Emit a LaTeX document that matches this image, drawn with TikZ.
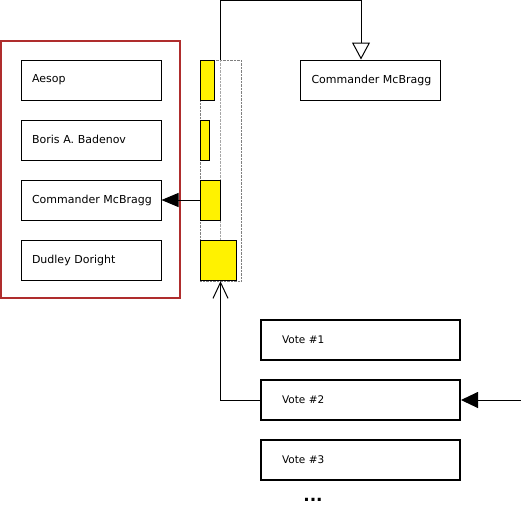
\documentclass[tikz,border=0pt]{standalone}
\usepackage{fontspec}
\setmainfont{DejaVu Sans}
\usetikzlibrary{arrows.meta}

\tikzset{
  namebox/.style={rectangle, draw, line width=1pt, minimum height=40pt,
    text width=118pt, inner xsep=11pt, align=left, font=\fontsize{11}{12}\selectfont},
  votebox/.style={rectangle, draw, line width=2pt, minimum height=40pt,
    text width=157pt, inner xsep=21pt, align=left, font=\fontsize{10.5}{12}\selectfont},
  bar/.style={rectangle, draw, fill=yellow, line width=1pt, minimum height=40pt, inner sep=0pt},
}

\begin{document}
\begin{tikzpicture}[x=1pt, y=-1pt]
        \useasboundingbox (0,0) rectangle (521,520);

        % cast of candidates
        \node[rectangle, draw={rgb,255:red,175;green,45;blue,45}, line width=1.6pt,
              minimum width=179pt, minimum height=257pt] (cast) at (90.5,169.5) {};
        \node[namebox] (aesop) at (91,80) {\raisebox{1.5pt}{Aesop}};
        \node[namebox] (boris) at (91,140) {\raisebox{1.5pt}{Boris A. Badenov}};
        \node[namebox] (mcbragg) at (91,200) {\raisebox{1.5pt}{Commander McBragg}};
        \node[namebox] (dudley) at (91,260) {\raisebox{1.5pt}{Dudley Doright}};

        % tally bars
        \node[rectangle, draw=gray, densely dotted, minimum width=41pt, minimum height=221pt] (tally) at (220.5,170.5) {};
        \draw[gray!70, densely dotted] (tally.north) -- (tally.south);
        \node[bar, minimum width=14pt] (bar1) at (207,80) {};
        \node[bar, minimum width=9pt] (bar2) at (204.5,140) {};
        \node[bar, minimum width=20pt] (bar3) at (210,200) {};
        \node[bar, minimum width=36pt] (bar4) at (218,260) {};

        % leader
        \node[namebox] (leader) at (370.5,80) {\raisebox{1.5pt}{Commander McBragg}};

        % votes
        \node[votebox] (vote1) at (360.5,340) {\raisebox{1.5pt}{Vote \#1}};
        \node[votebox] (vote2) at (360.5,400) {\raisebox{1.5pt}{Vote \#2}};
        \node[votebox] (vote3) at (360.5,460) {\raisebox{1.5pt}{Vote \#3}};
        \node[font=\fontsize{17}{18}\selectfont\bfseries] (more) at (313,500) {...};

        \coordinate (bend) at (361,0.5);
        \coordinate (feed) at (521,400);

        \draw[line width=1pt, -{Triangle[open, fill=white, length=17pt, width=18pt]}]
            (tally.north) |- (bend) -- (bend |- leader.north);
        \draw[line width=1pt, -{Triangle[length=17pt, width=14pt]}] (bar3.west) -- (mcbragg.east);
        \draw[line width=1pt, -{Triangle[length=17pt, width=16pt]}] (feed) -- (vote2.east);
        \draw[line width=1pt, -{Straight Barb[length=16pt, width=15pt]}] (vote2.west) -| (tally.south);
\end{tikzpicture}
\end{document}
